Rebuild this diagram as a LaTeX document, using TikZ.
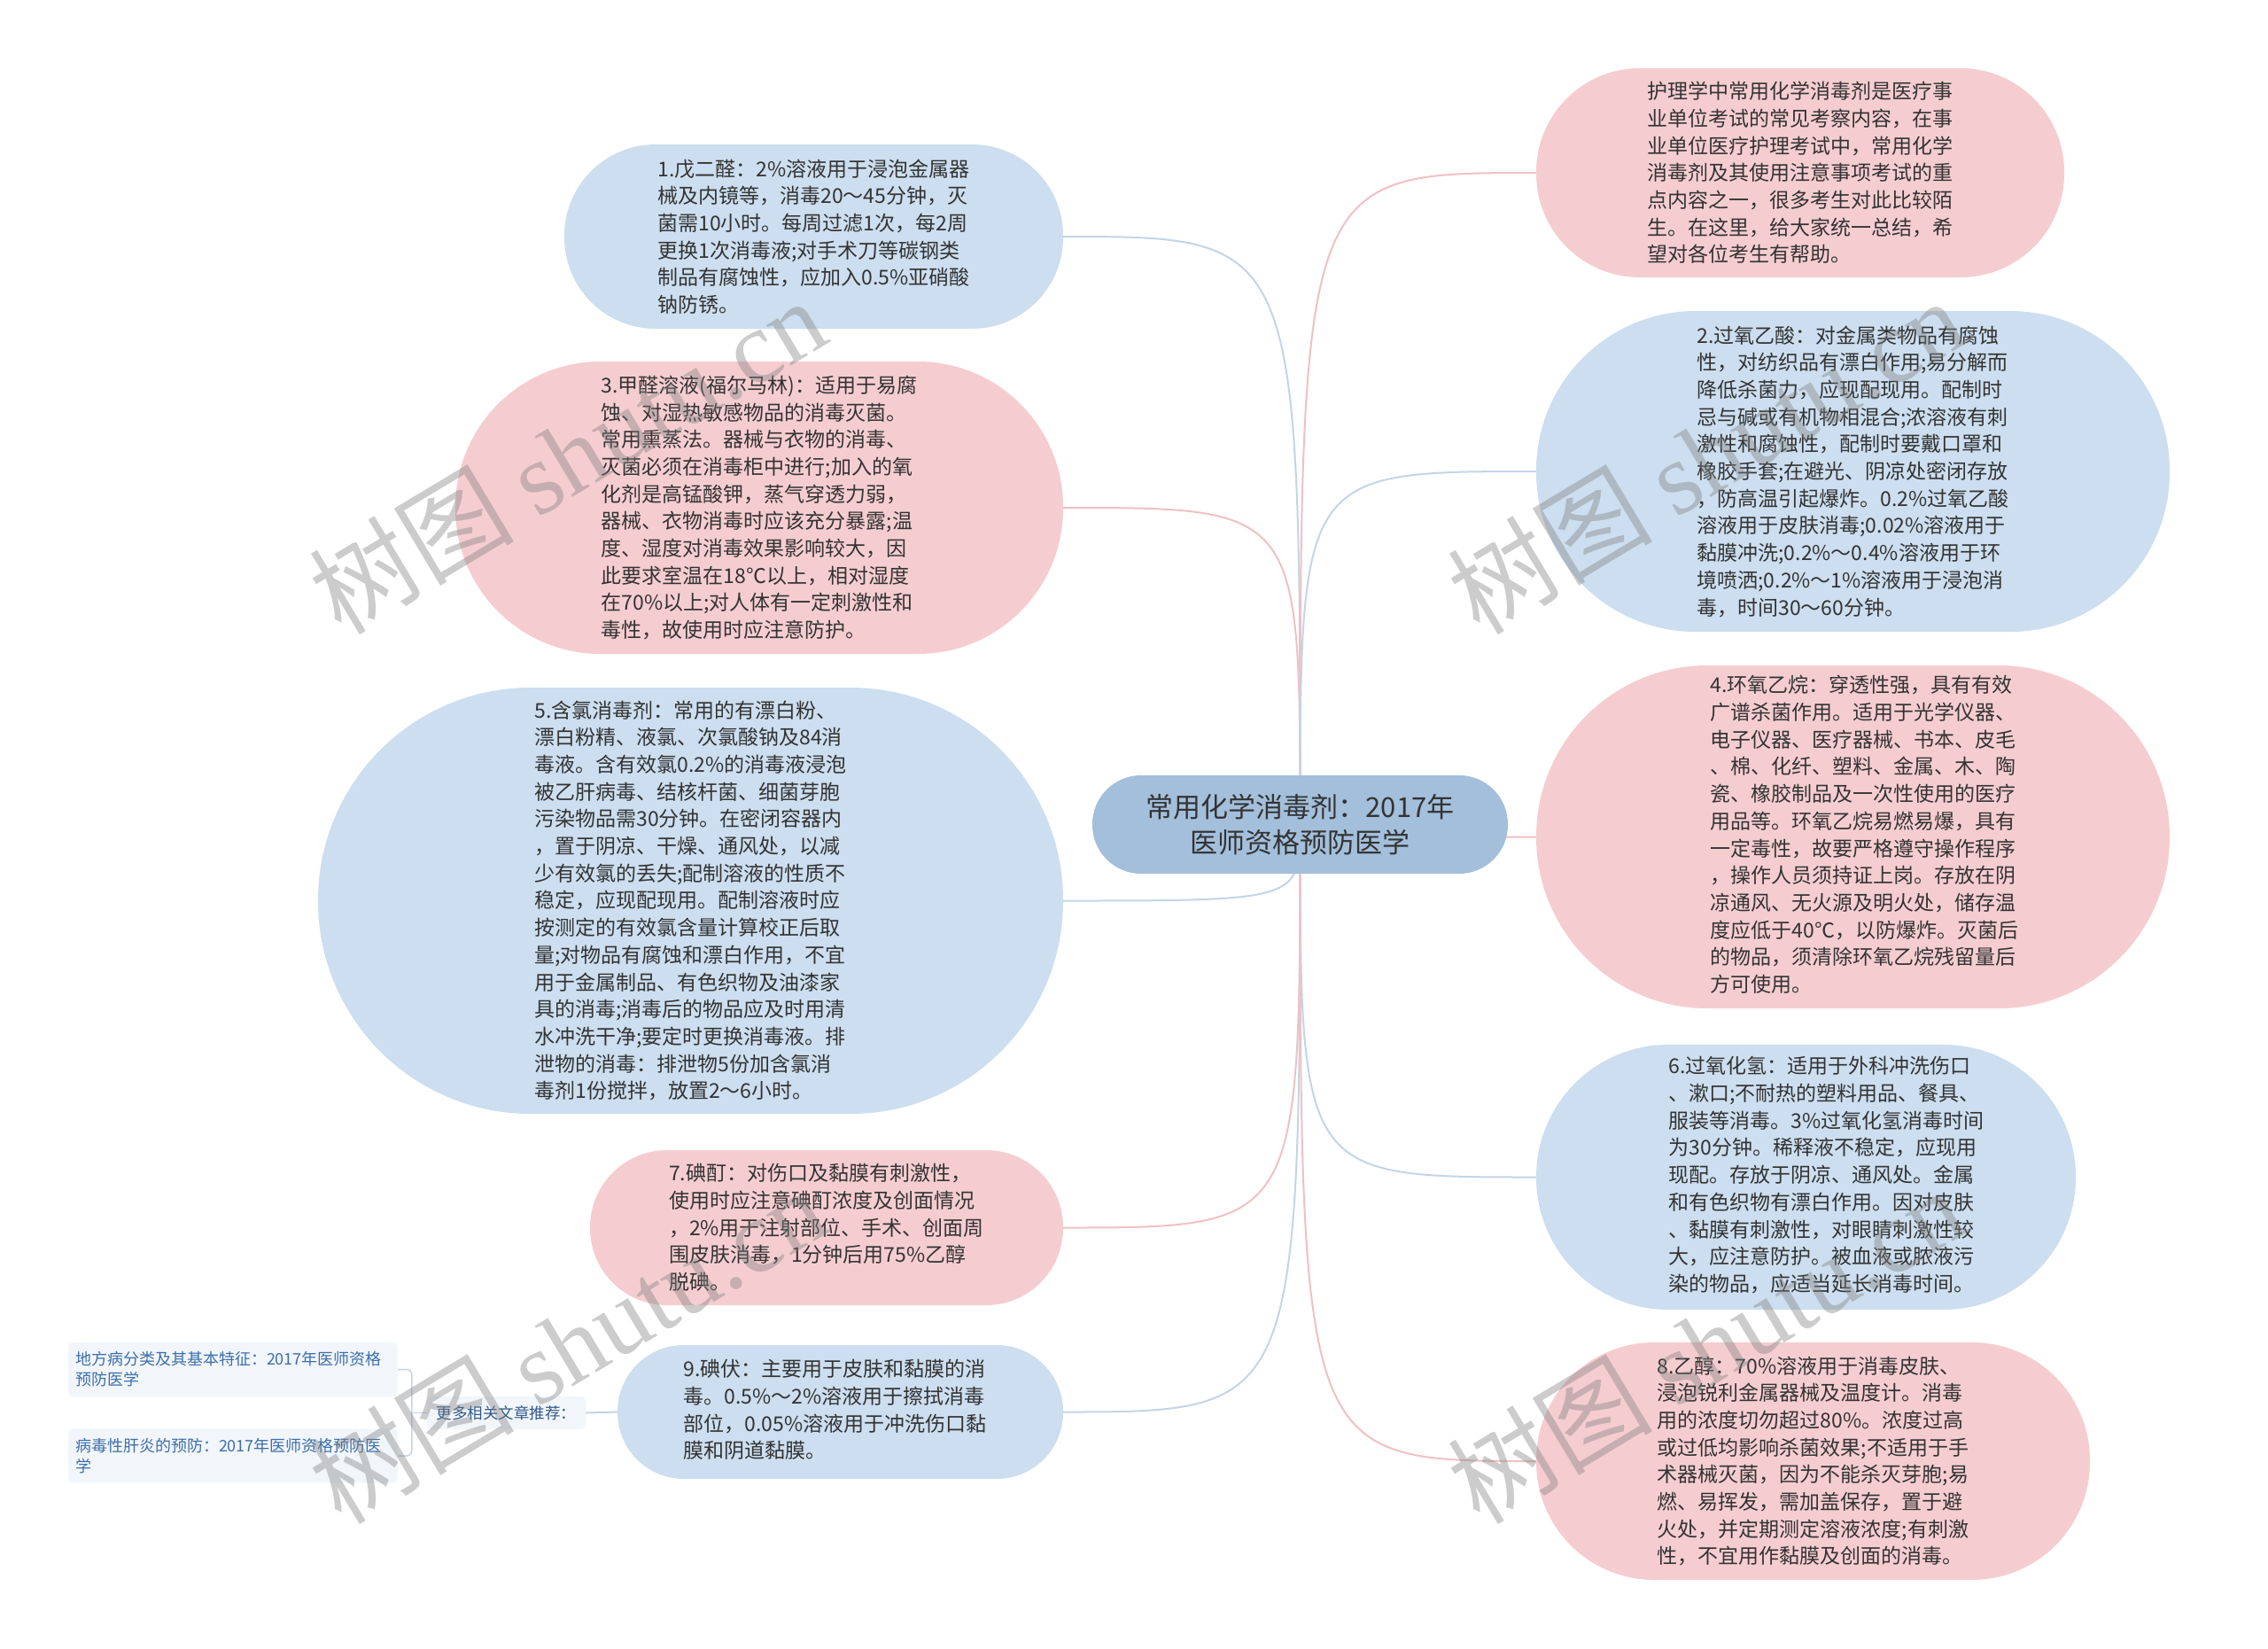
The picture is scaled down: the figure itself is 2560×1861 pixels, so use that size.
\documentclass[tikz,border=0pt]{standalone}
\usepackage{fontspec}
\setmainfont{Noto Sans CJK SC}
\newfontfamily\wmfont{Liberation Serif}
\usetikzlibrary{backgrounds}

\definecolor{rootblue}{HTML}{A3BFDB}
\definecolor{leafblue}{HTML}{CCDEEF}
\definecolor{leafpink}{HTML}{F5CDD0}
\definecolor{lineblue}{HTML}{C3D5E7}
\definecolor{linepink}{HTML}{EFC1C4}
\definecolor{linkbg}{HTML}{F2F6FB}
\definecolor{linktext}{HTML}{3C6FAA}
\definecolor{bodytext}{HTML}{333333}

\begin{document}
\begin{tikzpicture}[x=1pt, y=-1pt,
    leaf/.style={inner sep=0pt, align=left, text=bodytext, font=\fontsize{23}{30.7}\selectfont},
    bluebox/.style={leaf, fill=leafblue},
    pinkbox/.style={leaf, fill=leafpink},
    rootbox/.style={fill=rootblue, inner sep=0pt, align=center, text=bodytext,
        minimum width=469pt, minimum height=111pt, rounded corners=55pt,
        font=\fontsize{31}{40}\selectfont},
    linkbox/.style={fill=linkbg, inner sep=0pt, align=left, text=linktext,
        rounded corners=5pt, font=\fontsize{18}{23}\selectfont},
    blueline/.style={draw=lineblue, line width=2pt},
    pinkline/.style={draw=linepink, line width=2pt},
    wmark/.style={text=gray, opacity=0.4, rotate=31, font=\fontsize{116}{116}\selectfont}]

    \useasboundingbox (0,0) rectangle (2560,1861);

    % root
    \node[rootbox] (root) at (1467.5,930.5) {常用化学消毒剂：2017年\\医师资格预防医学};

    % left side
    \node[bluebox, minimum width=563pt, minimum height=208pt, rounded corners=103pt]
        (glut) at (918.5,267) {1.戊二醛：2\%溶液用于浸泡金属器\\械及内镜等，消毒20～45分钟，灭\\菌需10小时。每周过滤1次，每2周\\更换1次消毒液;对手术刀等碳钢类\\制品有腐蚀性，应加入0.5\%亚硝酸\\钠防锈。};
    \node[pinkbox, minimum width=686pt, minimum height=330pt, rounded corners=164pt]
        (formal) at (857,573) {3.甲醛溶液(福尔马林)：适用于易腐\\蚀、对湿热敏感物品的消毒灭菌。\\常用熏蒸法。器械与衣物的消毒、\\灭菌必须在消毒柜中进行;加入的氧\\化剂是高锰酸钾，蒸气穿透力弱，\\器械、衣物消毒时应该充分暴露;温\\度、湿度对消毒效果影响较大，因\\此要求室温在18℃以上，相对湿度\\在70\%以上;对人体有一定刺激性和\\毒性，故使用时应注意防护。};
    \node[bluebox, minimum width=841pt, minimum height=481pt, rounded corners=240pt]
        (chlor) at (779.5,1016.5) {5.含氯消毒剂：常用的有漂白粉、\\漂白粉精、液氯、次氯酸钠及84消\\毒液。含有效氯0.2\%的消毒液浸泡\\被乙肝病毒、结核杆菌、细菌芽胞\\污染物品需30分钟。在密闭容器内\\，置于阴凉、干燥、通风处，以减\\少有效氯的丢失;配制溶液的性质不\\稳定，应现配现用。配制溶液时应\\按测定的有效氯含量计算校正后取\\量;对物品有腐蚀和漂白作用，不宜\\用于金属制品、有色织物及油漆家\\具的消毒;消毒后的物品应及时用清\\水冲洗干净;要定时更换消毒液。排\\泄物的消毒：排泄物5份加含氯消\\毒剂1份搅拌，放置2～6小时。};
    \node[pinkbox, minimum width=534pt, minimum height=175pt, rounded corners=87pt]
        (tinct) at (933,1385.5) {7.碘酊：对伤口及黏膜有刺激性，\\使用时应注意碘酊浓度及创面情况\\，2\%用于注射部位、手术、创面周\\围皮肤消毒，1分钟后用75\%乙醇\\脱碘。};
    \node[bluebox, minimum width=503pt, minimum height=151pt, rounded corners=75pt]
        (povid) at (948.5,1593.5) {\hspace*{-12pt}\begin{tabular}{@{}l@{}}9.碘伏：主要用于皮肤和黏膜的消\\毒。0.5\%～2\%溶液用于擦拭消毒\\部位，0.05\%溶液用于冲洗伤口黏\\膜和阴道黏膜。\end{tabular}};

    % right side
    \node[pinkbox, minimum width=596pt, minimum height=236pt, rounded corners=117pt]
        (intro) at (2032,195) {护理学中常用化学消毒剂是医疗事\\业单位考试的常见考察内容，在事\\业单位医疗护理考试中，常用化学\\消毒剂及其使用注意事项考试的重\\点内容之一，很多考生对此比较陌\\生。在这里，给大家统一总结，希\\望对各位考生有帮助。};
    \node[bluebox, minimum width=715pt, minimum height=362pt, rounded corners=180pt]
        (perac) at (2091.5,532) {2.过氧乙酸：对金属类物品有腐蚀\\性，对纺织品有漂白作用;易分解而\\降低杀菌力，应现配现用。配制时\\忌与碱或有机物相混合;浓溶液有刺\\激性和腐蚀性，配制时要戴口罩和\\橡胶手套;在避光、阴凉处密闭存放\\，防高温引起爆炸。0.2\%过氧乙酸\\溶液用于皮肤消毒;0.02\%溶液用于\\黏膜冲洗;0.2\%～0.4\%溶液用于环\\境喷洒;0.2\%～1\%溶液用于浸泡消\\毒，时间30～60分钟。};
    \node[pinkbox, minimum width=715pt, minimum height=387pt, rounded corners=193pt]
        (epox) at (2091.5,944.5) {\hspace*{26pt}\begin{tabular}{@{}l@{}}4.环氧乙烷：穿透性强，具有有效\\广谱杀菌作用。适用于光学仪器、\\电子仪器、医疗器械、书本、皮毛\\、棉、化纤、塑料、金属、木、陶\\瓷、橡胶制品及一次性使用的医疗\\用品等。环氧乙烷易燃易爆，具有\\一定毒性，故要严格遵守操作程序\\，操作人员须持证上岗。存放在阴\\凉通风、无火源及明火处，储存温\\度应低于40℃，以防爆炸。灭菌后\\的物品，须清除环氧乙烷残留量后\\方可使用。\end{tabular}};
    \node[bluebox, minimum width=609pt, minimum height=299pt, rounded corners=149pt]
        (hperox) at (2038.5,1328.5) {\hspace*{46pt}\begin{tabular}{@{}l@{}}6.过氧化氢：适用于外科冲洗伤口\\、漱口;不耐热的塑料用品、餐具、\\服装等消毒。3\%过氧化氢消毒时间\\为30分钟。稀释液不稳定，应现用\\现配。存放于阴凉、通风处。金属\\和有色织物有漂白作用。因对皮肤\\、黏膜有刺激性，对眼睛刺激性较\\大，应注意防护。被血液或脓液污\\染的物品，应适当延长消毒时间。\end{tabular}};
    \node[pinkbox, minimum width=625pt, minimum height=268pt, rounded corners=133pt]
        (ethan) at (2046.5,1649) {8.乙醇：70\%溶液用于消毒皮肤、\\浸泡锐利金属器械及温度计。消毒\\用的浓度切勿超过80\%。浓度过高\\或过低均影响杀菌效果;不适用于手\\术器械灭菌，因为不能杀灭芽胞;易\\燃、易挥发，需加盖保存，置于避\\火处，并定期测定溶液浓度;有刺激\\性，不宜用作黏膜及创面的消毒。};

    % related links
    \node[linkbox, minimum width=179pt, minimum height=37pt, align=center, text=linktext!80!black,
        font=\fontsize{17.5}{22}\selectfont] (more) at (571.5,1594.5) {更多相关文章推荐：};
    \node[linkbox, minimum width=372pt, minimum height=61pt, text width=356pt]
        (lka) at (263,1545.5) {地方病分类及其基本特征：2017年医师资格\\预防医学};
    \node[linkbox, minimum width=372pt, minimum height=61pt, text width=356pt]
        (lkb) at (263,1643) {病毒性肝炎的预防：2017年医师资格预防医\\学};
    \coordinate (fork) at ([xshift=-17pt]more.west);

    \begin{scope}[on background layer]
        \fill[white] (0,0) rectangle (2560,1861);
        % branches from the root
        \draw[blueline] (root.center) .. controls (root.center |- glut.east) .. (glut.east);
        \draw[pinkline] (root.center) .. controls (root.center |- formal.east) .. (formal.east);
        \draw[blueline] (root.center) .. controls (root.center |- chlor.east) .. (chlor.east);
        \draw[pinkline] (root.center) .. controls (root.center |- tinct.east) .. (tinct.east);
        \draw[blueline] (root.center) .. controls (root.center |- povid.east) .. (povid.east);
        \draw[pinkline] (root.center) .. controls (root.center |- intro.west) .. (intro.west);
        \draw[blueline] (root.center) .. controls (root.center |- perac.west) .. (perac.west);
        \draw[pinkline] (root.center) .. controls (root.center |- epox.west) .. (epox.west);
        \draw[blueline] (root.center) .. controls (root.center |- hperox.west) .. (hperox.west);
        \draw[pinkline] (root.center) .. controls (root.center |- ethan.west) .. (ethan.west);
        \draw[blueline] (povid.west) -- (more.east);
        % bracket to the links
        \draw[draw=lineblue, line width=1.5pt, rounded corners=6pt] (lka.east) -| (fork) |- (lkb.east);
        \draw[draw=lineblue, line width=1.5pt] (fork) -- (more.west);
    \end{scope}

    % watermarks
    \node[wmark] (wma) at (640,514) {树图 {\wmfont shutu.cn}};
    \node[wmark] (wmb) at (1925,514) {树图 {\wmfont shutu.cn}};
    \node[wmark] (wmc) at (640,1518) {树图 {\wmfont shutu.cn}};
    \node[wmark] (wmd) at (1925,1518) {树图 {\wmfont shutu.cn}};
\end{tikzpicture}
\end{document}
